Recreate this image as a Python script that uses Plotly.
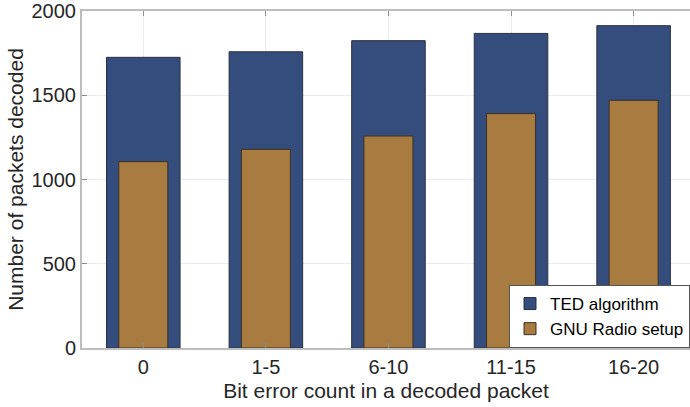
import plotly.graph_objects as go

categories = ["0", "1-5", "6-10", "11-15", "16-20"]
ted_values = [1725, 1758, 1824, 1867, 1913]
gnu_values = [1106, 1179, 1258, 1391, 1470]
y_ticks = [0, 500, 1000, 1500, 2000]

blue = "#344D7D"
orange = "#A87B40"

fig = go.Figure()
fig.add_trace(go.Bar(x=categories, y=ted_values, name="TED algorithm", width=0.6,
                     marker=dict(color=blue, line=dict(color="#2a3040", width=1))))
fig.add_trace(go.Bar(x=categories, y=gnu_values, name="GNU Radio setup", width=0.4,
                     marker=dict(color=orange, line=dict(color="#3a3025", width=1))))

font_family = "Liberation Sans, Arial, sans-serif"
fig.update_layout(
    width=690, height=407,
    margin=dict(l=82, r=0, t=11, b=59),
    barmode="overlay",
    plot_bgcolor="white", paper_bgcolor="white",
    font=dict(family=font_family, size=20, color="#262626"),
    showlegend=True,
    legend=dict(x=1, y=0, xanchor="right", yanchor="bottom",
                bgcolor="white", bordercolor="#555555", borderwidth=1,
                font=dict(size=17, color="#000000"), tracegroupgap=0,
                itemwidth=30),
    xaxis=dict(
        type="category", range=[-0.5, 4.46],
        showline=True, linecolor="#bdbdbd", linewidth=2, mirror="ticks",
        ticks="inside", ticklen=5, tickcolor="#8c8c8c",
        showgrid=True, gridcolor="#ebebeb",
        title=dict(text="Bit error count in a decoded packet", font=dict(size=21), standoff=6),
        tickfont=dict(size=20),
    ),
    yaxis=dict(
        range=[0, 2000], tickvals=y_ticks,
        showline=True, linecolor="#bdbdbd", linewidth=2, mirror=False,
        ticks="inside", ticklen=5, tickcolor="#8c8c8c",
        showgrid=True, gridcolor="#ebebeb", zeroline=False,
        title=dict(text="Number of packets decoded", font=dict(size=21), standoff=2),
        tickfont=dict(size=20),
    ),
)

fig.write_html("out.html")
